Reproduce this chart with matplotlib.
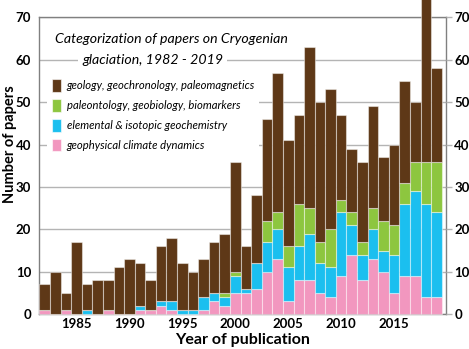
import numpy as np
import matplotlib
matplotlib.use("Agg")
from matplotlib import pyplot as plt
from matplotlib.patches import Patch

plt.rcParams['font.family'] = ['Lato', 'DejaVu Sans']

years = list(range(1982, 2020))
# geophysical climate dynamics
climate = [1, 0, 1, 0, 0, 0, 1, 0, 0, 1, 1, 2, 1, 0, 0, 1, 3, 2, 5, 5,
           6, 10, 13, 3, 8, 8, 5, 4, 9, 14, 8, 13, 10, 5, 9, 9, 4, 4]
# elemental & isotopic geochemistry
geochem = [0, 0, 0, 0, 1, 0, 0, 0, 0, 1, 0, 1, 2, 1, 1, 3, 2, 2, 4, 1,
           6, 7, 7, 8, 8, 11, 7, 7, 15, 7, 6, 7, 5, 9, 17, 20, 22, 20]
# paleontology, geobiology, biomarkers
paleo = [0, 0, 0, 0, 0, 0, 0, 0, 0, 0, 0, 0, 0, 0, 0, 0, 0, 1, 1, 0,
         0, 5, 4, 5, 10, 6, 5, 9, 3, 3, 3, 5, 7, 7, 5, 7, 10, 12]
# geology, geochronology, paleomagnetics
geology = [6, 10, 4, 17, 6, 8, 7, 11, 13, 10, 7, 13, 15, 11, 9, 9, 12, 14, 26, 10,
           16, 24, 33, 25, 21, 38, 33, 33, 20, 15, 19, 24, 15, 19, 24, 14, 39, 22]

labels = ['geology, geochronology, paleomagnetics',
          'paleontology, geobiology, biomarkers',
          'elemental & isotopic geochemistry',
          'geophysical climate dynamics']
colors = ['#5e3817', '#8dc63f', '#1bbfef', '#f297bf']

fig = plt.figure(figsize=(4.69, 3.49), dpi=100)
ax = fig.add_axes([0.084, 0.100, 0.867, 0.850])

edge = (1, 1, 1, 0.45)
bottom = np.zeros(len(years))
for vals, c in [(climate, colors[3]), (geochem, colors[2]),
                (paleo, colors[1]), (geology, colors[0])]:
    ax.bar(years, vals, width=1.0, bottom=bottom, color=c, edgecolor=edge,
           linewidth=0.8, zorder=3, clip_on=False)
    bottom += np.array(vals)

ax.set_xlim(1981.5, 2019.9)
ax.set_ylim(0, 70)
ax.set_yticks(range(0, 71, 10))
ax.set_xticks(range(1985, 2016, 5))
ax.grid(axis='y', color='#b4b4b4', linewidth=1.0, zorder=0)
for s in ax.spines.values():
    s.set_color('#808080')
    s.set_linewidth(1.0)
ax.tick_params(axis='x', length=0, labelsize=9.5, pad=3)
ax.tick_params(axis='y', length=0, labelsize=9.5, pad=6)
for t in ax.get_xticklabels() + ax.get_yticklabels():
    t.set_fontweight('bold')

ax2 = ax.twinx()
ax2.set_ylim(0, 70)
ax2.set_yticks(range(0, 71, 10))
ax2.tick_params(axis='y', length=4, color='#b4b4b4', width=1.0, labelsize=9.5, pad=2)
for t in ax2.get_yticklabels():
    t.set_fontweight('bold')
for s in ax2.spines.values():
    s.set_visible(False)

ax.set_xlabel('Year of publication', fontsize=11.5, fontweight='bold', labelpad=2)
ax.set_ylabel('Number of papers', fontsize=10.5, fontweight='bold', va='center')
ax.yaxis.set_label_coords(-0.072, 0.572)

# title block
ax.text(1994.0, 65.0, 'Categorization of papers on Cryogenian', fontsize=10.2,
        style='italic', ha='center', va='center', zorder=5,
        bbox=dict(facecolor='white', edgecolor='none', pad=3))
ax.text(1992.2, 59.9, 'glaciation, 1982 - 2019', fontsize=10.2,
        style='italic', ha='center', va='center', zorder=5,
        bbox=dict(facecolor='white', edgecolor='none', pad=3))

handles = [Patch(facecolor=c, edgecolor=(1, 1, 1, 0.6), linewidth=0.8) for c in colors]
leg = ax.legend(handles, labels, loc='upper left', bbox_to_anchor=(0.005, 0.828),
                frameon=True, facecolor='white', edgecolor='none', framealpha=1,
                fancybox=False, handlelength=0.8, handleheight=1.4,
                handletextpad=0.55, labelspacing=0.62, borderaxespad=0.5,
                prop={'size': 8.1, 'style': 'italic'})
leg.set_zorder(5)

fig.savefig('out.png', dpi=100)
